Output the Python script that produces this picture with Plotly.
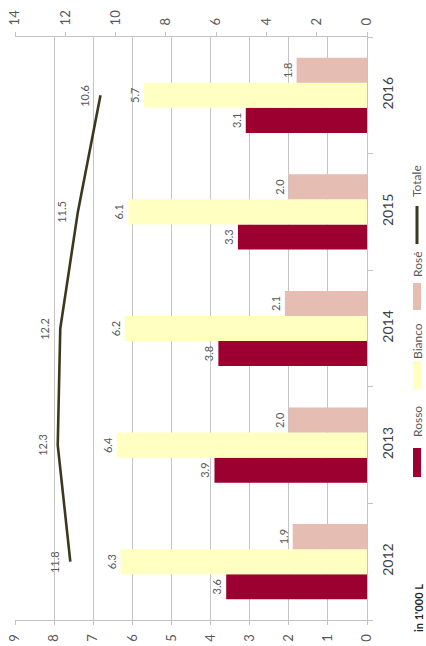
import plotly.graph_objects as go

years = ["2012", "2013", "2014", "2015", "2016"]
rosso = [3.6, 3.9, 3.8, 3.3, 3.1]
bianco = [6.3, 6.4, 6.2, 6.1, 5.7]
rose = [1.9, 2.0, 2.1, 2.0, 1.8]
totale = [11.8, 12.3, 12.2, 11.5, 10.6]
x_ticks = list(range(0, 10))
x2_ticks = list(range(0, 15, 2))

C_ROSSO = "#9C0030"
C_BIANCO = "#FFFFC2"
C_ROSE = "#E5BDB2"
C_LINE = "#3c381f"
TXT = "#595959"
GRID = "#C4C4C4"
FONT = "Lato"

W, H = 426, 646
# plot area in pixels
L, R, T, B = 15, 367, 37, 620


def pxx(p):
    return (p - L) / (R - L)


def pxy(p):
    return (B - p) / (B - T)


fig = go.Figure()
for name, vals, col in [("Rosso", rosso, C_ROSSO), ("Bianco", bianco, C_BIANCO), ("Rosé", rose, C_ROSE)]:
    fig.add_trace(go.Bar(
        name=name, y=years, x=vals, orientation="h",
        marker=dict(color=col, line=dict(width=0)),
        texttemplate="%{x:.1f}", textposition="outside", textangle=-90,
        textfont=dict(size=11, color=TXT, family=FONT),
        constraintext="none", cliponaxis=False, showlegend=False,
    ))

fig.add_trace(go.Scatter(
    name="Totale", y=years, x=totale, xaxis="x2", mode="lines",
    line=dict(color=C_LINE, width=2.6), showlegend=False,
))

annotations = []
for i, tv in enumerate(totale):
    annotations.append(dict(
        x=tv, y=i, xref="x2", yref="y", text=f"{tv:.1f}", showarrow=False,
        textangle=-90, xshift=-16, font=dict(size=11, color=TXT, family=FONT),
    ))

shapes = []
# manual rotated legend
leg = [("Rosso", 422, "rect", C_ROSSO, 448, 477),
       ("Bianco", 341, "rect", C_BIANCO, 361, 389),
       ("Rosé", 265, "rect", C_ROSE, 283, 310),
       ("Totale", 181, "line", C_LINE, 206, 244)]
for name, ty, kind, col, s0, s1 in leg:
    annotations.append(dict(
        x=pxx(417), y=pxy(ty), xref="paper", yref="paper", text=name,
        showarrow=False, textangle=-90, xanchor="center", yanchor="middle",
        font=dict(size=12, color=TXT, family=FONT),
    ))
    if kind == "rect":
        shapes.append(dict(type="rect", xref="paper", yref="paper",
                           x0=pxx(413), x1=pxx(421), y0=pxy(s1), y1=pxy(s0),
                           fillcolor=col, line=dict(width=0)))
    else:
        shapes.append(dict(type="line", xref="paper", yref="paper",
                           x0=pxx(417), x1=pxx(417), y0=pxy(s1), y1=pxy(s0),
                           line=dict(color=col, width=3)))

annotations.append(dict(
    x=pxx(418), y=pxy(608), xref="paper", yref="paper", text="<b>in 1'000 L</b>",
    showarrow=False, textangle=-90, xanchor="center", yanchor="middle",
    font=dict(size=11, color="#262626", family=FONT),
))

fig.update_layout(
    width=W, height=H,
    margin=dict(l=L, r=W - R, t=T, b=H - B, autoexpand=False),
    paper_bgcolor="white", plot_bgcolor="white",
    barmode="group", bargap=0.355, bargroupgap=0,
    font=dict(family=FONT, color=TXT),
    showlegend=False,
    xaxis=dict(range=[9, 0], tickvals=x_ticks, tickangle=-90, side="bottom",
               showgrid=True, gridcolor=GRID, gridwidth=1, automargin=False,
               showline=True, linecolor=GRID, linewidth=1, mirror=False,
               ticks="outside", ticklen=4, tickcolor=GRID, zeroline=False,
               ticklabeloverflow="allow",
               tickfont=dict(size=13, color=TXT, family=FONT), ticklabelstandoff=4),
    xaxis2=dict(range=[14, 0], tickvals=x2_ticks, tickangle=-90, side="top",
                overlaying="x", showgrid=False, showline=True, linecolor=GRID,
                linewidth=1, ticks="outside", ticklen=4, tickcolor=GRID,
                zeroline=False, tickfont=dict(size=13, color=TXT, family=FONT),
                ticklabeloverflow="allow",
                ticklabelstandoff=4, automargin=False),
    yaxis=dict(type="category", categoryorder="array", categoryarray=years,
               range=[-0.5, 4.5], autorange=False, automargin=False,
               side="right", tickangle=-90, showline=True, linecolor=GRID,
               linewidth=1, ticks="outside", tickson="boundaries", ticklen=5,
               tickcolor=GRID, showgrid=False, ticklabeloverflow="allow",
               tickfont=dict(size=14, color="#404040", family=FONT),
               ticklabelstandoff=8),
    annotations=annotations, shapes=shapes,
)

fig.write_html(
    "out.html",
    config={"displayModeBar": False, "staticPlot": True},
    post_script="document.body.style.margin='0';document.body.style.overflow='hidden';",
)
